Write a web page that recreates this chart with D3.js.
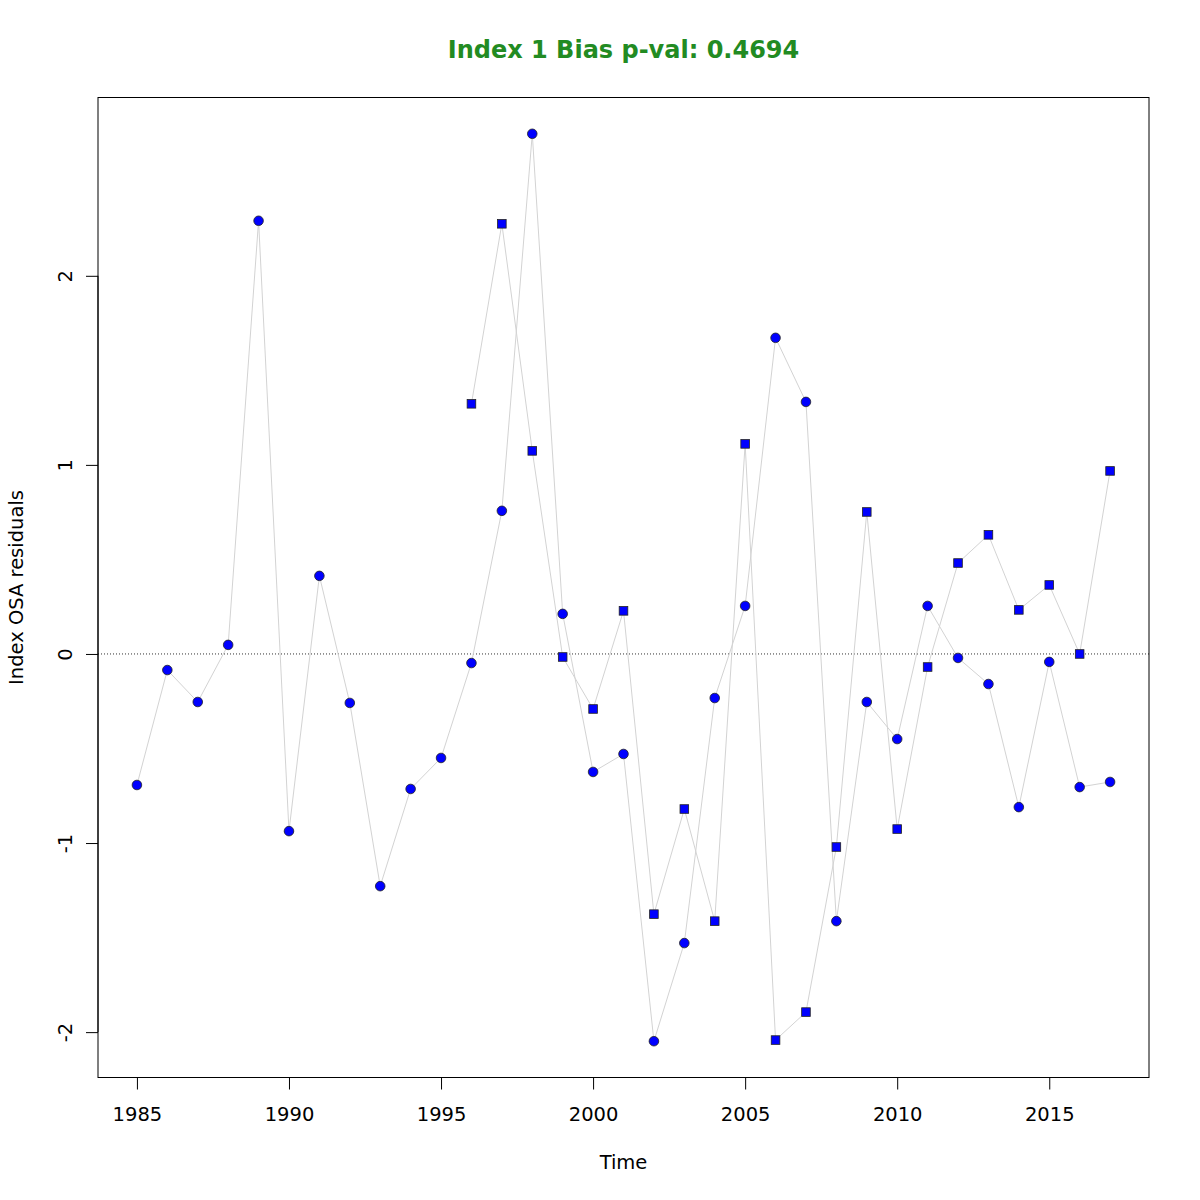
<!DOCTYPE html>
<html><head><meta charset="utf-8">
<script src="https://cdn.jsdelivr.net/npm/d3@7"></script>
<style>body{margin:0;background:#fff}</style>
</head><body>
<script>
const circleYears = d3.range(1985, 2018);
const circleValues = [-0.693,-0.085,-0.254,0.048,2.291,-0.937,0.413,-0.259,-1.228,-0.714,-0.550,-0.048,0.757,2.751,0.212,-0.624,-0.529,-2.048,-1.529,-0.233,0.254,1.672,1.333,-1.413,-0.254,-0.450,0.254,-0.021,-0.159,-0.810,-0.042,-0.704,-0.677];
const squareYears = d3.range(1996, 2018);
const squareValues = [1.323,2.275,1.074,-0.016,-0.291,0.228,-1.376,-0.820,-1.413,1.111,-2.042,-1.894,-1.021,0.751,-0.926,-0.069,0.481,0.630,0.233,0.365,0.000,0.968];
const xTicks = [1985,1990,1995,2000,2005,2010,2015];
const yTicks = [-2,-1,0,1,2];
const titleText = "Index 1 Bias p-val: 0.4694";

const W = 1200, H = 1200;
const L = 98, R = 1149, T = 97.5, B = 1077.5;
const FONT = "DejaVu Sans, sans-serif";
const svg = d3.select("body").append("svg").attr("width", W).attr("height", H)
  .style("font-family", FONT);

const allX = circleYears.concat(squareYears);
const allY = circleValues.concat(squareValues);
const xe = d3.extent(allX), ye = d3.extent(allY);
const xp = (xe[1]-xe[0])*0.04, yp = (ye[1]-ye[0])*0.04;
const x = d3.scaleLinear().domain([xe[0]-xp, xe[1]+xp]).range([L, R]);
const y = d3.scaleLinear().domain([ye[0]-yp, ye[1]+yp]).range([B, T]);

// zero line
svg.append("line").attr("x1", L).attr("x2", R).attr("y1", y(0)).attr("y2", y(0))
  .attr("stroke", "#333").attr("stroke-width", 1).attr("stroke-dasharray", "1,2");

const line = d3.line().x(d => x(d[0])).y(d => y(d[1]));
const cData = circleYears.map((yr, i) => [yr, circleValues[i]]);
const sData = squareYears.map((yr, i) => [yr, squareValues[i]]);
svg.append("path").attr("d", line(cData)).attr("fill", "none").attr("stroke", "#d3d3d3").attr("stroke-width", 1);
svg.append("path").attr("d", line(sData)).attr("fill", "none").attr("stroke", "#d3d3d3").attr("stroke-width", 1);

svg.selectAll("circle.pt").data(cData).enter().append("circle")
  .attr("cx", d => x(d[0])).attr("cy", d => y(d[1])).attr("r", 4.8)
  .attr("fill", "#0000ff").attr("stroke", "#222").attr("stroke-width", 0.8);
svg.selectAll("rect.pt").data(sData).enter().append("rect")
  .attr("x", d => x(d[0]) - 4.3).attr("y", d => y(d[1]) - 4.3).attr("width", 8.6).attr("height", 8.6)
  .attr("fill", "#0000ff").attr("stroke", "#222").attr("stroke-width", 0.8);

// box
svg.append("rect").attr("x", L).attr("y", T).attr("width", R-L).attr("height", B-T)
  .attr("fill", "none").attr("stroke", "#000").attr("stroke-width", 1);

const fmt = d => String(d);

// axes
const xAxis = d3.axisBottom(x).tickValues(xTicks).tickSize(12).tickPadding(18).tickFormat(fmt);
const gx = svg.append("g").attr("transform", `translate(0,${B})`).call(xAxis);
gx.select(".domain").attr("d", `M${x(xTicks[0])},0H${x(xTicks[xTicks.length-1])}`);
gx.selectAll("text").style("font-size", "19.5px").style("font-family", FONT).attr("fill", "#000");

const yAxis = d3.axisLeft(y).tickValues(yTicks).tickSize(12).tickFormat(fmt);
const gy = svg.append("g").attr("transform", `translate(${L},0)`).call(yAxis);
gy.select(".domain").attr("d", `M0,${y(yTicks[0])}V${y(yTicks[yTicks.length-1])}`);
gy.selectAll("text").style("font-size", "19.5px").style("font-family", FONT).attr("fill", "#000")
  .attr("x", null)
  .attr("text-anchor", "middle")
  .attr("transform", `translate(-33,0) rotate(-90)`)
  .attr("dy", "0.35em");

// labels
svg.append("text").attr("x", (L+R)/2).attr("y", 1169).attr("text-anchor", "middle")
  .style("font-size", "19.5px").text("Time");
svg.append("text").attr("transform", `translate(23,${(T+B)/2}) rotate(-90)`).attr("text-anchor", "middle")
  .style("font-size", "19.5px").text("Index OSA residuals");
svg.append("text").attr("x", (L+R)/2).attr("y", 58).attr("text-anchor", "middle")
  .style("font-size", "24px").style("font-weight", "bold").attr("fill", "#228B22").text(titleText);
</script>
</body></html>
